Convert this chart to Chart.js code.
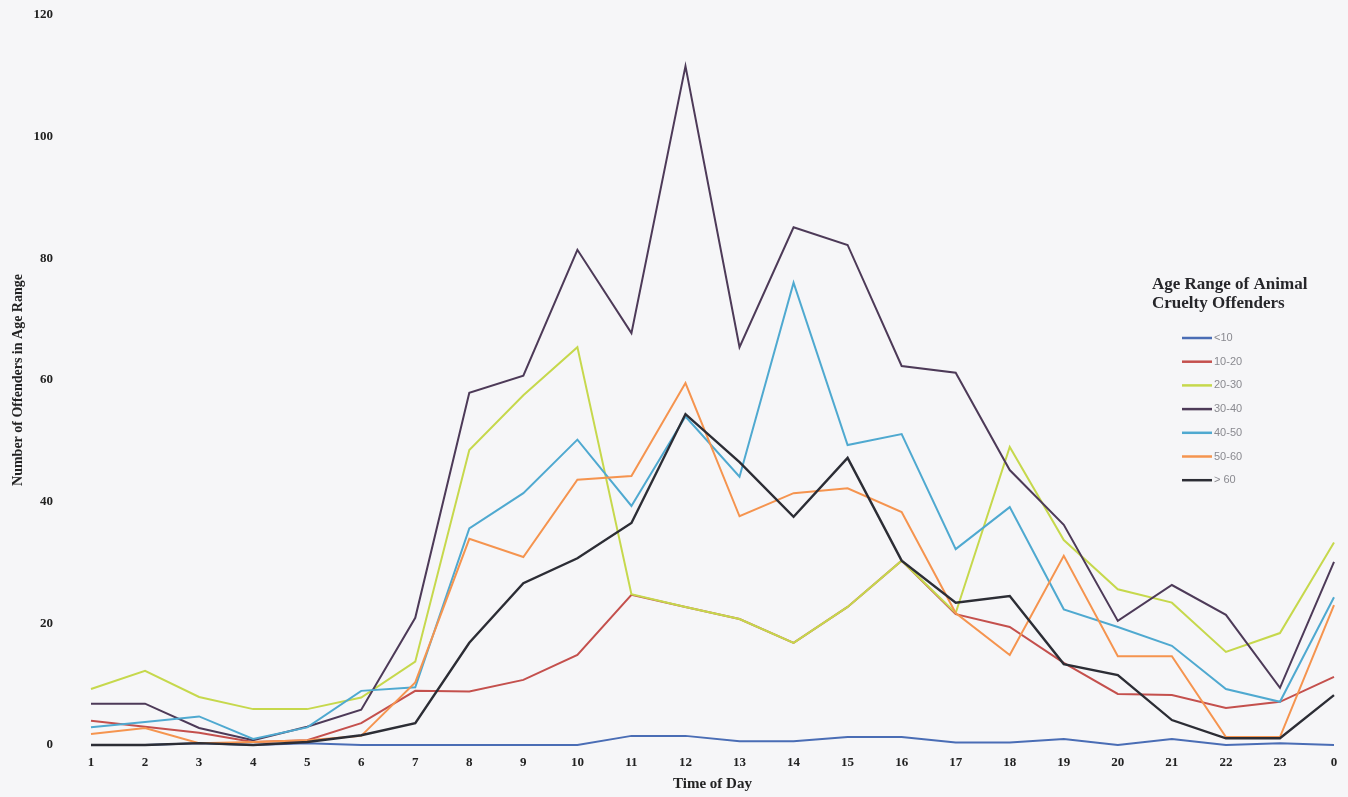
<!DOCTYPE html>
<html>
<head>
<meta charset="utf-8">
<title>Age Range of Animal Cruelty Offenders</title>
<script src="https://cdn.jsdelivr.net/npm/chart.js@4.4.0/dist/chart.umd.min.js"></script>
<style>
  html, body { margin: 0; padding: 0; background: #f6f6f8; }
  #wrap { width: 1348px; height: 797px; position: relative; }
</style>
</head>
<body>
<div id="wrap"><canvas id="offenderChart"></canvas></div>
<script>
// hours along the x axis (1..23 then 0)
const hours = ['1','2','3','4','5','6','7','8','9','10','11','12','13','14','15','16','17','18','19','20','21','22','23','0'];

// values
const under10   = [0,0,0.3,0,0.3,0,0,0,0,0,1.5,1.5,0.6,0.6,1.3,1.3,0.4,0.4,1,0,1,0,0.3,0];
const age10to20 = [4,3,2,0.5,0.8,3.6,8.9,8.8,10.7,14.8,24.7,22.7,20.7,16.8,22.7,30.3,21.5,19.4,13.5,8.4,8.2,6.1,7.1,11.2];
const age20to30 = [9.2,12.2,7.9,5.9,5.9,7.8,13.7,48.5,57.5,65.4,24.8,22.7,20.7,16.8,22.7,30.3,21.7,49,33.7,25.6,23.4,15.3,18.4,33.3];
const age30to40 = [6.8,6.8,2.8,0.8,3,5.8,20.9,57.9,60.7,81.4,67.7,111.6,65.4,85.1,82.2,62.3,61.2,45.2,36.2,20.4,26.3,21.4,9.4,30.1];
const age40to50 = [2.9,3.8,4.7,1,2.9,8.9,9.5,35.6,41.4,50.2,39.3,54,44.1,76,49.3,51.1,32.2,39.1,22.3,19.4,16.3,9.2,7.1,24.3];
const age50to60 = [1.8,2.8,0.3,0.5,0.8,1.5,10.3,33.9,30.9,43.6,44.2,59.5,37.6,41.4,42.2,38.3,21.7,14.8,31.1,14.6,14.6,1.3,1.3,23];
const over60    = [0,0,0.3,0,0.5,1.6,3.6,16.8,26.6,30.7,36.5,54.4,46.5,37.5,47.2,30.3,23.4,24.5,13.3,11.5,4.1,1.1,1.1,8.2];

const seriesLabels = ['<10','10-20','20-30','30-40','40-50','50-60','> 60'];
const seriesData = [under10, age10to20, age20to30, age30to40, age40to50, age50to60, over60];
const seriesColors = ['#4a6db5','#c4504d','#c6d84c','#4d3a58','#4fa9d0','#f5944f','#2c2d35'];

// legend drawn inside the plot on the right, like the original
const sideLegend = {
    id: 'sideLegend',
    afterDraw(chart) {
        const ctx = chart.ctx;
        ctx.save();
        ctx.textBaseline = 'middle';
        ctx.fillStyle = '#26262a';
        ctx.font = 'bold 17px "Liberation Serif"';
        ctx.fillText('Age Range of Animal', 1152, 285);
        ctx.fillText('Cruelty Offenders', 1152, 304);

        ctx.font = '11px "Liberation Sans"';
        chart.data.datasets.forEach((ds, i) => {
            const y = 338 + i * 23.7;
            ctx.strokeStyle = ds.borderColor;
            ctx.lineWidth = 2.5;
            ctx.beginPath();
            ctx.moveTo(1182, y);
            ctx.lineTo(1212, y);
            ctx.stroke();
            ctx.fillStyle = '#8a8a90';
            ctx.fillText(ds.label, 1214, y);
        });
        ctx.restore();
    }
};

document.addEventListener('DOMContentLoaded', function () {
    const ctx = document.getElementById('offenderChart').getContext('2d');

    const datasets = seriesLabels.map((label, i) => ({
        label: label,
        data: seriesData[i],
        borderColor: seriesColors[i],
        backgroundColor: seriesColors[i],
        borderWidth: i === 6 ? 2.4 : 2,
        pointRadius: 0,
        tension: 0,
        fill: false,
        clip: 4,
        order: -i   // later series drawn on top, as in the original
    }));

    new Chart(ctx, {
        type: 'line',
        data: { labels: hours, datasets: datasets },
        plugins: [sideLegend],
        options: {
            responsive: true,
            maintainAspectRatio: false,
            animation: false,
            layout: { padding: { left: 0, right: 14, top: 15, bottom: 0 } },
            plugins: {
                legend: { display: false },
                tooltip: { enabled: false }
            },
            scales: {
                x: {
                    offset: false,
                    grid: { display: false, drawTicks: false },
                    border: { display: false },
                    ticks: {
                        padding: 10,
                        color: '#222',
                        font: { family: '"Liberation Serif"', size: 13, weight: 'bold' },
                        maxRotation: 0,
                        autoSkip: false
                    },
                    title: {
                        display: true,
                        text: 'Time of Day',
                        color: '#222',
                        padding: { top: 0, bottom: 4 },
                        font: { family: '"Liberation Serif"', size: 15, weight: 'bold' }
                    },
                    afterFit(scale) { scale.height = 52; }
                },
                y: {
                    min: 0,
                    max: 120,
                    grid: { display: false, drawTicks: false },
                    border: { display: false },
                    ticks: {
                        stepSize: 20,
                        padding: 38,
                        color: '#222',
                        font: { family: '"Liberation Serif"', size: 13, weight: 'bold' }
                    },
                    title: {
                        display: true,
                        text: 'Number of Offenders in Age Range',
                        color: '#222',
                        padding: { top: 10, bottom: 0 },
                        font: { family: '"Liberation Serif"', size: 14, weight: 'bold' }
                    },
                    afterFit(scale) {
                        scale.width = 91;
                        // tick padding would otherwise push the plot top down
                        scale.paddingTop = 0;
                        scale.paddingBottom = 0;
                    }
                }
            }
        }
    });
});
</script>
</body>
</html>
